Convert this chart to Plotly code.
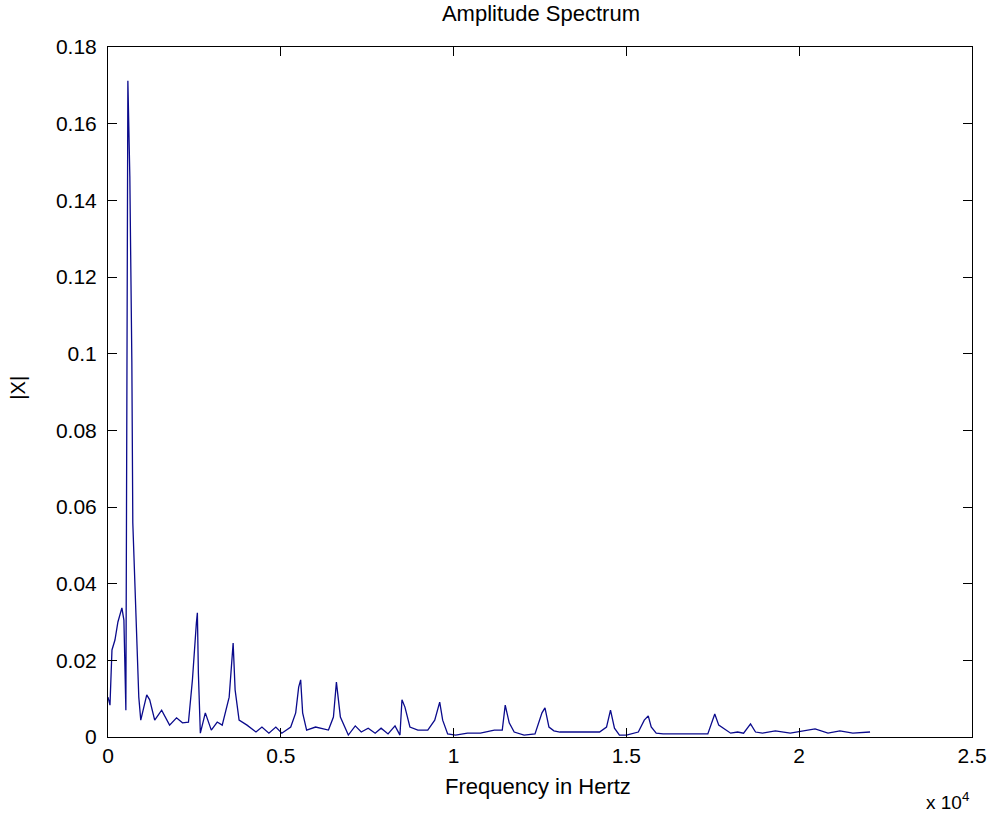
import plotly.graph_objects as go

# Frequency (Hz) and amplitude |X|
freq_hz = [0, 57, 115, 201, 287, 402, 460, 517, 546, 575, 632, 690, 718, 805, 862, 891, 948,
           1121, 1207, 1351, 1552, 1782, 1983, 2155, 2328, 2443, 2557, 2586, 2615, 2672, 2816,
           2989, 3161, 3305, 3506, 3592, 3621, 3678, 3793, 4023, 4282, 4454, 4655, 4856, 5029,
           5287, 5431, 5517, 5575, 5632, 5747, 6006, 6379, 6523, 6609, 6724, 6897, 6954, 7155,
           7328, 7529, 7730, 7902, 8103, 8305, 8448, 8506, 8592, 8736, 8966, 9253, 9454, 9598,
           9684, 9828, 10057, 10402, 10776, 11178, 11408, 11494, 11609, 11753, 12040, 12356,
           12557, 12644, 12759, 12902, 13075, 14224, 14425, 14540, 14655, 14799, 15000, 15345,
           15517, 15632, 15718, 15862, 16063, 17356, 17443, 17557, 17672, 17816, 18017, 18218,
           18391, 18592, 18736, 18937, 19310, 19741, 20115, 20460, 20833, 21178, 21552, 22050]
amplitude = [0.0104, 0.0083, 0.0227, 0.0253, 0.0300, 0.0337, 0.0305, 0.0070, 0.0887, 0.1712,
             0.1460, 0.0978, 0.0558, 0.0324, 0.0219, 0.0104, 0.0044,
             0.0110, 0.0097, 0.0044, 0.0070, 0.0031, 0.0050, 0.0037, 0.0039, 0.0149, 0.0297,
             0.0324, 0.0167, 0.0010, 0.0063,
             0.0018, 0.0039, 0.0031, 0.0104, 0.0201, 0.0245, 0.0123, 0.0044, 0.0031, 0.0013,
             0.0026, 0.0010, 0.0026, 0.0010,
             0.0026, 0.0063, 0.0130, 0.0149, 0.0063, 0.0018, 0.0026, 0.0018, 0.0052, 0.0143,
             0.0052, 0.0018, 0.0005, 0.0029,
             0.0013, 0.0023, 0.0010, 0.0023, 0.0008, 0.0029, 0.0005, 0.0097, 0.0078, 0.0026,
             0.0018, 0.0018, 0.0044, 0.0091,
             0.0044, 0.0008, 0.0005, 0.0010, 0.0010, 0.0018, 0.0018, 0.0083, 0.0037, 0.0013,
             0.0005, 0.0008,
             0.0063, 0.0076, 0.0026, 0.0016, 0.0013, 0.0013, 0.0026, 0.0070, 0.0023, 0.0005,
             0.0005, 0.0013,
             0.0044, 0.0055, 0.0026, 0.0010, 0.0008, 0.0008, 0.0031, 0.0060, 0.0031, 0.0023,
             0.0010, 0.0013,
             0.0010, 0.0034, 0.0013, 0.0010, 0.0016, 0.0010, 0.0016, 0.0021, 0.0010, 0.0016,
             0.0010, 0.0013]

x_tick_vals = [0, 5000, 10000, 15000, 20000, 25000]
x_tick_text = ["0", "0.5", "1", "1.5", "2", "2.5"]
y_tick_vals = [0, 0.02, 0.04, 0.06, 0.08, 0.1, 0.12, 0.14, 0.16, 0.18]
y_tick_text = ["0", "0.02", "0.04", "0.06", "0.08", "0.1", "0.12", "0.14", "0.16", "0.18"]

FONT = "Liberation Sans, Arial, sans-serif"

fig = go.Figure()
fig.add_trace(go.Scatter(x=freq_hz, y=amplitude, mode="lines",
                         line=dict(color="#0a0a8c", width=1.3), showlegend=False))

fig.update_layout(
    width=999, height=821,
    margin=dict(l=108, r=21, t=47, b=84),
    paper_bgcolor="white", plot_bgcolor="white",
    font=dict(family=FONT, size=21, color="black"),
    title=dict(text="Amplitude Spectrum", x=0.5415, xanchor="center",
               y=1 - 6 / 821, yanchor="top",
               font=dict(family=FONT, size=22, color="black")),
    xaxis=dict(range=[0, 25000], tickvals=x_tick_vals, ticktext=x_tick_text,
               ticks="inside", ticklen=9, tickcolor="black", showline=True, linecolor="black",
               linewidth=1, mirror="ticks", showgrid=False, zeroline=False,
               tickfont=dict(family=FONT, size=21)),
    yaxis=dict(range=[0, 0.18], tickvals=y_tick_vals, ticktext=y_tick_text,
               ticks="inside", ticklen=9, tickcolor="black", showline=True, linecolor="black",
               linewidth=1, mirror="ticks", showgrid=False, zeroline=False,
               ticklabelstandoff=6, tickfont=dict(family=FONT, size=21)),
)
fig.add_annotation(text="Frequency in Hertz", xref="paper", yref="paper",
                   x=(541 - 108) / 870, y=(737 - 786) / 690, xanchor="center", yanchor="middle",
                   showarrow=False, font=dict(family=FONT, size=22, color="black"))
fig.add_annotation(text="|X|", xref="paper", yref="paper", textangle=-90,
                   x=(17 - 108) / 870, y=(737 - 388) / 690, xanchor="center", yanchor="middle",
                   showarrow=False, font=dict(family=FONT, size=20, color="black"))
fig.add_annotation(text="x 10<sup>4</sup>", xref="paper", yref="paper",
                   x=(977 - 108) / 870, y=(737 - 801) / 690, xanchor="right", yanchor="middle",
                   showarrow=False, font=dict(family=FONT, size=19, color="black"))

fig.write_html("out.html", config={"displayModeBar": False},
               post_script="document.body.style.margin='0';")
